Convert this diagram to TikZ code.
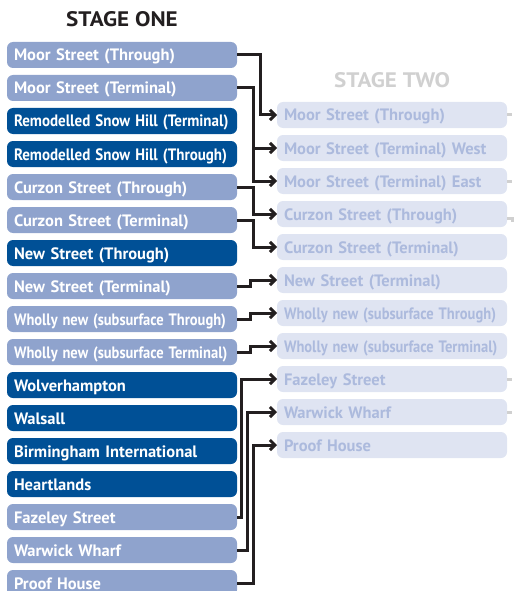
\documentclass[tikz,border=0pt]{standalone}
\usepackage{fontspec}
\setmainfont{PT Sans}
\usepackage{graphicx}
\usepackage{xcolor}
\definecolor{stageink}{RGB}{35,31,32}
\definecolor{paleblue}{RGB}{143,163,205}
\definecolor{deepblue}{RGB}{0,80,150}
\definecolor{ghostfill}{RGB}{223,228,242}
\definecolor{ghosttext}{RGB}{172,186,221}
\definecolor{ghostgray}{RGB}{208,208,208}
\usepackage{tikz}
\usetikzlibrary{arrows.meta, positioning}
\newcommand{\squeeze}[2][0.9]{\scalebox{#1}[1]{#2}}
\tikzset{
  onebox/.style={
    rectangle, fill=paleblue, text=white,
    text width=216pt, minimum height=26pt, inner xsep=7pt, inner ysep=0pt,
    outer sep=0pt, text height=13pt, text depth=1pt,
    align=left, rounded corners=6pt, font=\fontsize{16.5}{17}\selectfont\bfseries},
  darkbox/.style={onebox, fill=deepblue},
  twobox/.style={onebox, fill=ghostfill, text=ghosttext},
  stagehead/.style={font=\fontsize{21}{23}\selectfont\bfseries},
  arr/.style={-{Straight Barb[length=5pt,width=10pt]}, line width=3pt, stageink},
  stub/.style={line width=3pt, ghostgray},
}

\begin{document}
\begin{tikzpicture}[x=1pt, y=-1pt, node distance=7pt]
  \useasboundingbox (0,0) rectangle (519,591);
  \node[stagehead, text=stageink] (one) at (122,19) {\squeeze[1.1]{STAGE ONE}};
  \node[stagehead, text=ghostgray] (two) at (392,80) {\squeeze[1.1]{STAGE TWO}};
  \node[onebox] (l1) at (122,55) {Moor Street (Through)};
  \node[onebox, below=of l1] (l2) {Moor Street (Terminal)};
  \node[darkbox, below=of l2] (l3) {\squeeze[0.91]{Remodelled Snow Hill (Terminal)}};
  \node[darkbox, below=of l3] (l4) {\squeeze[0.91]{Remodelled Snow Hill (Through)}};
  \node[onebox, below=of l4] (l5) {Curzon Street (Through)};
  \node[onebox, below=of l5] (l6) {Curzon Street (Terminal)};
  \node[darkbox, below=of l6] (l7) {New Street (Through)};
  \node[onebox, below=of l7] (l8) {New Street (Terminal)};
  \node[onebox, below=of l8] (l9) {\squeeze[0.88]{Wholly new (subsurface Through)}};
  \node[onebox, below=of l9] (l10) {\squeeze[0.88]{Wholly new (subsurface Terminal)}};
  \node[darkbox, below=of l10] (l11) {Wolverhampton};
  \node[darkbox, below=of l11] (l12) {Walsall};
  \node[darkbox, below=of l12] (l13) {Birmingham International};
  \node[darkbox, below=of l13] (l14) {Heartlands};
  \node[onebox, below=of l14] (l15) {Fazeley Street};
  \node[onebox, below=of l15] (l16) {Warwick Wharf};
  \node[onebox, below=of l16] (l17) {Proof House};
  \node[twobox] (r1) at (392,115) {Moor Street (Through)};
  \node[twobox, below=of r1] (r2) {Moor Street (Terminal) West};
  \node[twobox, below=of r2] (r3) {Moor Street (Terminal) East};
  \node[twobox, below=of r3] (r4) {Curzon Street (Through)};
  \node[twobox, below=of r4] (r5) {Curzon Street (Terminal)};
  \node[twobox, below=of r5] (r6) {New Street (Terminal)};
  \node[twobox, below=of r6] (r7) {\squeeze[0.88]{Wholly new (subsurface Through)}};
  \node[twobox, below=of r7] (r8) {\squeeze[0.88]{Wholly new (subsurface Terminal)}};
  \node[twobox, below=of r8] (r9) {Fazeley Street};
  \node[twobox, below=of r9] (r10) {Warwick Wharf};
  \node[twobox, below=of r10] (r11) {Proof House};
  \draw[arr] (l1.east) -- ++(23,0) |- (r1.west);
  \draw[arr] (l2.east) -- ++(16,0) |- (r2.west);
  \draw[arr] (l2.east) -- ++(16,0) |- (r3.west);
  \draw[arr] (l5.east) -- ++(16,0) |- (r4.west);
  \draw[arr] (l6.east) -- ++(16,0) |- (r5.west);
  \draw[arr] (l8.east) -- ++(13,0) |- (r6.west);
  \draw[arr] (l9.east) -- ++(13,0) |- (r7.west);
  \draw[arr] (l10.east) -- ++(13,0) |- (r8.west);
  \draw[arr] (l15.east) -- ++(4,0) |- (r9.west);
  \draw[arr] (l16.east) -- ++(10,0) |- (r10.west);
  \draw[arr] (l17.east) -- ++(16,0) |- (r11.west);
  \draw[stub] (r1.east) -- ++(5,0);
  \draw[stub] (r3.east) -- ++(5,0);
  \draw[stub] ([yshift=-4pt]r4.east) -- ++(5,0) -- ++(0,4);
  \draw[stub] (r9.east) -- ++(5,0);
  \draw[stub] (r10.east) -- ++(5,0);
\end{tikzpicture}
\end{document}
